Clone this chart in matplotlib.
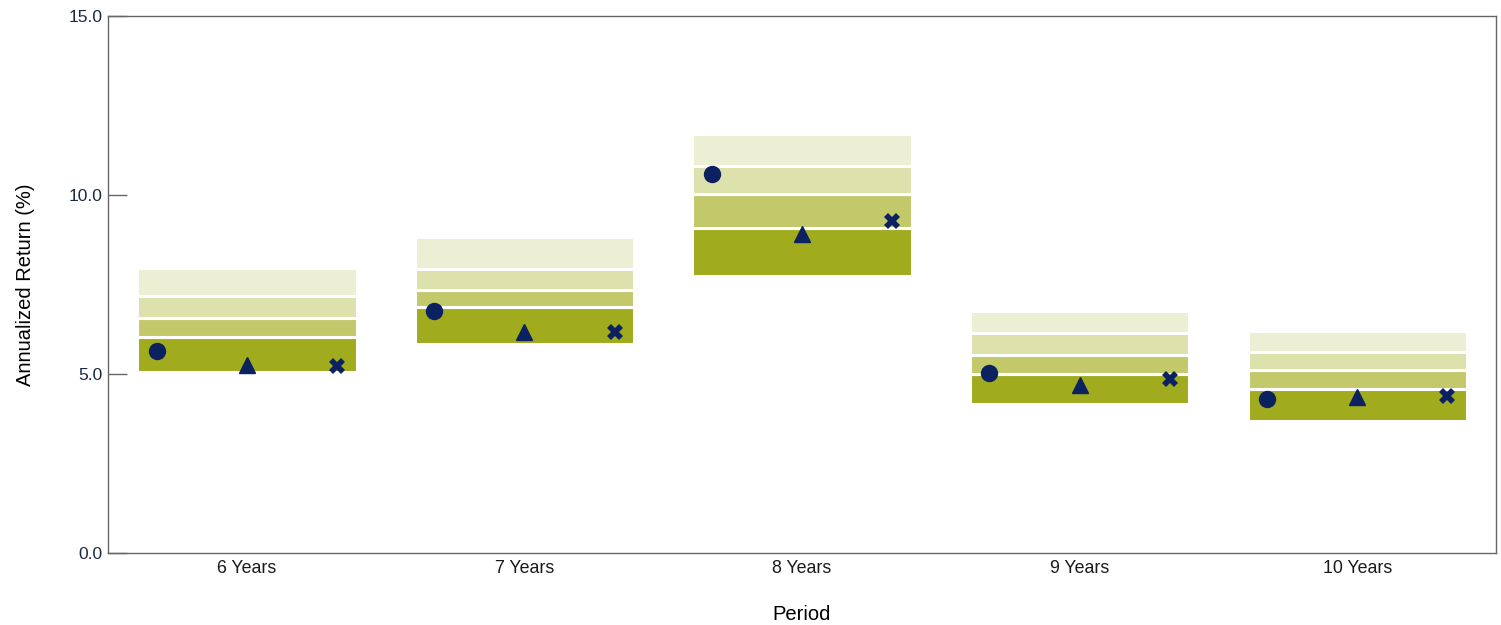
import matplotlib.pyplot as plt
import numpy as np

plt.rcParams['font.family'] = ['Liberation Sans', 'DejaVu Sans']

periods = ['6 Years', '7 Years', '8 Years', '9 Years', '10 Years']

# band edges (bottom -> top)
p05 = [5.06, 5.84, 7.74, 4.15, 3.68]
p25 = [6.03, 6.88, 9.09, 5.01, 4.57]
p50 = [6.56, 7.35, 10.03, 5.54, 5.11]
p75 = [7.18, 7.94, 10.82, 6.14, 5.61]
p95 = [7.95, 8.82, 11.70, 6.77, 6.20]

# the three point series
circle_vals = [5.64, 6.77, 10.58, 5.02, 4.29]
triangle_vals = [5.25, 6.16, 8.90, 4.68, 4.35]
cross_vals = [5.23, 6.16, 9.27, 4.87, 4.39]

band_colors = ['#A0AB1E', '#C3C96B', '#DDE1AC', '#ECEFD3']
navy = '#0B2160'

fig = plt.figure(figsize=(15.01, 6.25), dpi=100)
ax = fig.add_axes([0.072, 0.1152, 0.9247, 0.8592])

x = np.arange(len(periods))
edges = [p05, p25, p50, p75, p95]
for i in range(4):
    lo = np.array(edges[i])
    hi = np.array(edges[i + 1])
    ax.bar(x, hi - lo, bottom=lo, width=0.79, color=band_colors[i],
           edgecolor='white', linewidth=2.2, zorder=1)

ax.plot(x - 0.325, circle_vals, 'o', color=navy, markersize=11.5, linestyle='none', zorder=3)
ax.plot(x, triangle_vals, '^', color=navy, markersize=11.5, linestyle='none', zorder=3)
ax.plot(x + 0.325, cross_vals, 'X', color=navy, markersize=11.5, markeredgewidth=0,
        linestyle='none', zorder=3)

ax.set_xlim(-0.5, 4.5)
ax.set_ylim(0, 15)
ax.set_xticks(x)
ax.set_xticklabels(periods)
ax.set_yticks([0, 5, 10, 15])
ax.set_yticklabels(['0.0', '5.0', '10.0', '15.0'])

ax.tick_params(axis='x', length=0, labelsize=12.8, pad=5, labelcolor='#1a1a1a')
ax.tick_params(axis='y', direction='in', length=14, width=1, color='#666666',
               labelsize=12.5, labelcolor='#1a2a40', pad=4)

for s in ax.spines.values():
    s.set_color('#666666')
    s.set_linewidth(1)

ax.set_xlabel('Period', fontsize=14.5, labelpad=20)
ax.set_ylabel('Annualized Return (%)', fontsize=14.5, labelpad=24)

fig.savefig('out.png', dpi=100)
